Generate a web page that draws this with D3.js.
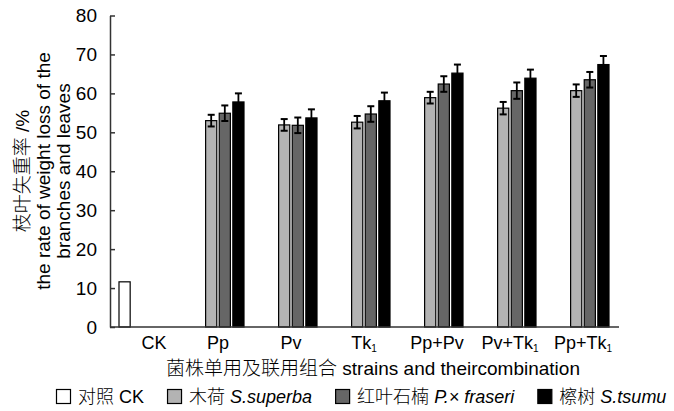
<!DOCTYPE html>
<html><head><meta charset="utf-8">
<script src="https://cdn.jsdelivr.net/npm/d3@7"></script>
<style>
body{margin:0;background:#fff;}
svg{display:block;font-family:"Liberation Sans",Arial,"Noto Sans CJK SC",sans-serif;}
.cn{font-family:"Noto Sans CJK SC",sans-serif;font-weight:300;}
</style></head>
<body><svg id="chart" width="674" height="411"></svg>
<script>
// ---- data ----
const categories = ["CK", "Pp", "Pv", "Tk", "Pp+Pv", "Pv+Tk", "Pp+Tk"];
const categorySub = ["", "", "", "1", "", "1", "1"];
const seriesKeys = ["ck", "superba", "fraseri", "tsumu"];
const seriesCN = ["对照", "木荷", "红叶石楠", "檫树"];
const seriesLatin = ["CK", "S.superba", "P.× fraseri", "S.tsumu"];
const seriesItalic = [false, true, true, true];
const seriesColors = ["#ffffff", "#b3b3b3", "#666666", "#000000"];

const ckValues      = [11.6, null, null, null, null, null, null];
const superbaValues = [null, 53.0, 51.9, 52.6, 58.9, 56.2, 60.7];
const fraseriValues = [null, 54.9, 51.8, 54.7, 62.4, 60.7, 63.5];
const tsumuValues   = [null, 57.8, 53.7, 58.1, 65.2, 63.9, 67.4];

const ckErrors      = [0, null, null, null, null, null, null];
const superbaErrors = [null, 1.5, 1.5, 1.6, 1.5, 1.6, 1.6];
const fraseriErrors = [null, 2.0, 2.0, 2.0, 2.0, 2.1, 2.0];
const tsumuErrors   = [null, 2.2, 2.2, 2.1, 2.2, 2.2, 2.2];

const yTicks = [0, 10, 20, 30, 40, 50, 60, 70, 80];
const yTitleCN = "枝叶失重率";
const yTitleUnit = " /%";
const yTitleLines = ["the rate of weight loss of the", "branches and leaves"];
const xTitleCN = "菌株单用及联用组合";
const xTitleEN = " strains and theircombination";

const valueTable = [ckValues, superbaValues, fraseriValues, tsumuValues];
const errorTable = [ckErrors, superbaErrors, fraseriErrors, tsumuErrors];

// ---- chart ----
const svg = d3.select("#chart");
const FS = 19;
const FS_TICK = 18;
const FS_LEG = 18;

const y = d3.scaleLinear().domain([0, 80]).range([327, 15.5]);
const x0 = d3.scaleBand().domain(categories).range([108.5, 619.5]).paddingInner(0).paddingOuter(0);
const x1 = d3.scaleBand().domain(seriesKeys).range([0, 52]).paddingInner(0.18).paddingOuter(0);
const groupOffset = (x0.bandwidth() - 52) / 2;

const records = [];
categories.forEach((c, i) => {
  seriesKeys.forEach((k, j) => {
    const v = valueTable[j][i];
    if (v !== null && v !== undefined) {
      records.push({cat: c, key: k, idx: j, value: v, err: errorTable[j][i]});
    }
  });
});

const g = svg.append("g");

// bars
g.selectAll("rect.bar").data(records).enter().append("rect")
  .attr("class", "bar")
  .attr("x", d => x0(d.cat) + groupOffset + x1(d.key))
  .attr("y", d => y(d.value))
  .attr("width", x1.bandwidth())
  .attr("height", d => y(0) - y(d.value))
  .attr("fill", d => seriesColors[d.idx])
  .attr("stroke", "#000")
  .attr("stroke-width", 1.2);

// error bars
const eb = records.filter(d => d.err && d.err > 0);
const cx = d => x0(d.cat) + groupOffset + x1(d.key) + x1.bandwidth() / 2;
g.selectAll("line.err").data(eb).enter().append("line")
  .attr("x1", cx).attr("x2", cx)
  .attr("y1", d => y(d.value + d.err)).attr("y2", d => y(d.value - d.err))
  .attr("stroke", "#000").attr("stroke-width", 1.8);
["+", "-"].forEach(s => {
  g.selectAll("line.cap" + (s === "+" ? "u" : "d")).data(eb).enter().append("line")
    .attr("x1", d => cx(d) - 3.5).attr("x2", d => cx(d) + 3.5)
    .attr("y1", d => y(s === "+" ? d.value + d.err : d.value - d.err))
    .attr("y2", d => y(s === "+" ? d.value + d.err : d.value - d.err))
    .attr("stroke", "#000").attr("stroke-width", 2);
});

// axes
const axisColor = "#333";
const yAxis = d3.axisLeft(y).tickValues(yTicks).tickSize(-5).tickPadding(13).tickSizeOuter(0);
const yg = svg.append("g").attr("transform", "translate(110,0)").call(yAxis);
yg.select(".domain").attr("stroke", axisColor).attr("stroke-width", 1.5);
yg.selectAll(".tick line").attr("stroke", axisColor).attr("stroke-width", 1.5);
yg.selectAll(".tick text").attr("font-size", FS).attr("fill", "#000")
  .attr("font-family", "Liberation Sans, Arial, sans-serif");

svg.append("line").attr("x1", 110).attr("x2", 619).attr("y1", y(0)).attr("y2", y(0))
  .attr("stroke", axisColor).attr("stroke-width", 1.5);

// x tick labels
const labelDx = [9, 0, 0, 0, 0, 0, 0];
const xl = svg.append("g");
categories.forEach((c, i) => {
  const t = xl.append("text")
    .attr("x", x0(c) + x0.bandwidth() / 2 + labelDx[i])
    .attr("y", 349)
    .attr("text-anchor", "middle")
    .attr("font-size", FS_TICK).attr("fill", "#000");
  t.append("tspan").text(c);
  if (categorySub[i]) {
    t.append("tspan").attr("font-size", 10).attr("dy", 3).text(categorySub[i]);
  }
});

// y title
const yt0 = svg.append("text")
  .attr("transform", `translate(29,171) rotate(-90)`)
  .attr("text-anchor", "middle")
  .attr("font-size", FS).attr("fill", "#000");
yt0.append("tspan").attr("class", "cn").text(yTitleCN);
yt0.append("tspan").text(yTitleUnit);
yTitleLines.forEach((line, i) => {
  const bx = [50, 70][i];
  svg.append("text")
    .attr("transform", `translate(${bx},171) rotate(-90)`)
    .attr("text-anchor", "middle")
    .attr("font-size", FS).attr("fill", "#000")
    .text(line);
});

// x title
const xt = svg.append("text").attr("x", 373).attr("y", 375).attr("text-anchor", "middle")
  .attr("font-size", FS).attr("fill", "#000");
xt.append("tspan").attr("class", "cn").text(xTitleCN);
xt.append("tspan").text(xTitleEN);

// legend
let lx = 56;
const ly = 403;
seriesKeys.forEach((k, j) => {
  svg.append("rect").attr("x", lx + 0.5).attr("y", ly - 13.5).attr("width", 14).attr("height", 14)
    .attr("fill", seriesColors[j]).attr("stroke", "#000").attr("stroke-width", 1.2);
  const t = svg.append("text").attr("x", lx + 22).attr("y", ly).attr("font-size", FS_LEG).attr("fill", "#000");
  t.append("tspan").attr("class", "cn").text(seriesCN[j]);
  t.append("tspan").text(" ");
  t.append("tspan").attr("font-style", seriesItalic[j] ? "italic" : "normal").text(seriesLatin[j]);
  const w = t.node().getComputedTextLength();
  lx = lx + 22 + w + 23;
});
</script>
</body></html>
